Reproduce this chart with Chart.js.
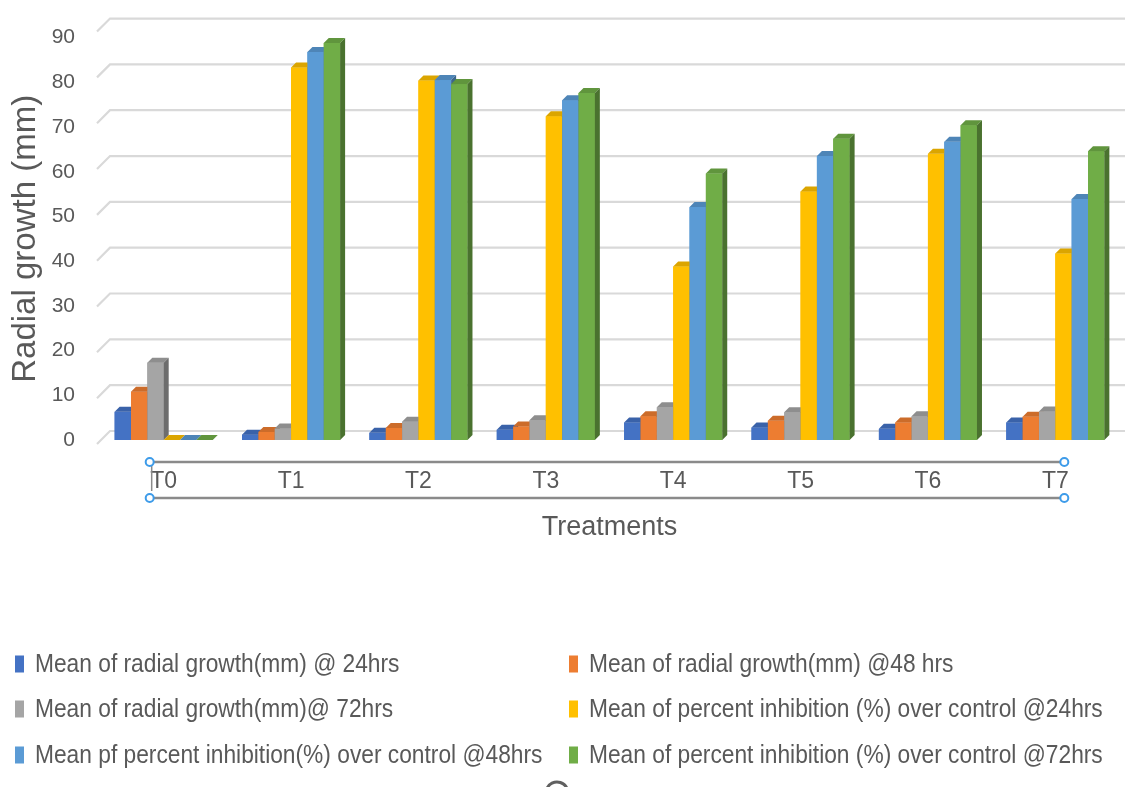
<!DOCTYPE html>
<html>
<head>
<meta charset="utf-8">
<script src="https://cdn.jsdelivr.net/npm/chart.js@4.4.1/dist/chart.umd.min.js"></script>
<style>
  html, body { margin: 0; padding: 0; background: #ffffff; }
  #wrap { width: 1125px; height: 787px; position: relative; }
</style>
</head>
<body>
<div id="wrap"><canvas id="chart"></canvas></div>
<script>
// Treatments on the x axis
const treatments = ['T0', 'T1', 'T2', 'T3', 'T4', 'T5', 'T6', 'T7'];

// Radial growth (mm)
const growth24 = [6.3, 1.2, 1.6, 2.3, 3.9, 2.8, 2.5, 3.9];
const growth48 = [10.8, 1.8, 2.7, 3.0, 5.3, 4.3, 3.9, 5.2];
const growth72 = [17.3, 2.6, 4.1, 4.4, 7.3, 6.2, 5.3, 6.4];

// Percent inhibition (%) over control
const inhibition24 = [0, 83.3, 80.4, 72.4, 38.8, 55.6, 64.0, 41.7];
const inhibition48 = [0, 86.8, 80.5, 76.0, 52.1, 63.5, 66.7, 53.9];
const inhibition72 = [0, 88.8, 79.6, 77.6, 59.6, 67.4, 70.4, 64.6];

const seriesNames = [
  'Mean of radial growth(mm) @ 24hrs',
  'Mean of radial growth(mm) @48 hrs',
  'Mean of radial growth(mm)@ 72hrs',
  'Mean of percent inhibition (%) over control @24hrs',
  'Mean pf percent inhibition(%) over control @48hrs',
  'Mean of percent inhibition (%) over control @72hrs'
];
const seriesColors = ['#4472C4', '#ED7D31', '#A5A5A5', '#FFC000', '#5B9BD5', '#70AD47'];
const seriesValues = [growth24, growth48, growth72, inhibition24, inhibition48, inhibition72];

const yTicks = [0, 10, 20, 30, 40, 50, 60, 70, 80, 90];

const FONT = "'Liberation Sans', Arial, sans-serif";
const TEXT = '#595959';
const DEPTH = 5;

function shade(hex, f) {
  const n = parseInt(hex.slice(1), 16);
  const r = Math.round(((n >> 16) & 255) * f);
  const g = Math.round(((n >> 8) & 255) * f);
  const b = Math.round((n & 255) * f);
  return `rgb(${r},${g},${b})`;
}

// Back-wall gridlines with the short slanted floor edge on the left
const backWall = {
  id: 'backWall',
  beforeDatasetsDraw(chart) {
    const { ctx, chartArea: a, scales: { y } } = chart;
    ctx.save();
    ctx.strokeStyle = '#d9d9d9';
    ctx.lineWidth = 2.2;
    yTicks.forEach(v => {
      const f = y.getPixelForValue(v);
      const back = f - 9 - (a.bottom - f) * 0.025;
      ctx.beginPath();
      ctx.moveTo(a.left - 3, back + 13);
      ctx.lineTo(a.left + 10, back);
      ctx.lineTo(chart.width, back);
      ctx.stroke();
    });
    ctx.restore();
  }
};

// Redraws each cluster left to right with a front face, top face and side face
const bars3d = {
  id: 'bars3d',
  afterDatasetsDraw(chart) {
    const { ctx } = chart;
    const metas = chart.data.datasets.map((_, i) => chart.getDatasetMeta(i));
    ctx.save();
    treatments.forEach((_, j) => {
      metas.forEach((meta, i) => {
        const el = meta.data[j];
        if (!el) return;
        const { x, y, base, width } = el.getProps(['x', 'y', 'base', 'width'], true);
        const l = x - width / 2, r = x + width / 2;
        const c = seriesColors[i];
        ctx.fillStyle = c;
        ctx.fillRect(l, y, width, base - y);
        ctx.fillStyle = shade(c, 0.86);
        ctx.beginPath();
        ctx.moveTo(l, y); ctx.lineTo(l + DEPTH, y - DEPTH);
        ctx.lineTo(r + DEPTH, y - DEPTH); ctx.lineTo(r, y);
        ctx.closePath(); ctx.fill();
        ctx.fillStyle = shade(c, 0.66);
        ctx.beginPath();
        ctx.moveTo(r, y); ctx.lineTo(r + DEPTH, y - DEPTH);
        ctx.lineTo(r + DEPTH, base - DEPTH); ctx.lineTo(r, base);
        ctx.closePath(); ctx.fill();
      });
    });
    ctx.restore();
  }
};

// Frame around the category labels with its corner handles
const labelFrame = {
  id: 'labelFrame',
  afterDraw(chart) {
    const { ctx, scales: { x } } = chart;
    const x0 = x.getPixelForValue(0) - 14;
    const x1 = x.getPixelForValue(treatments.length - 1) + 9;
    const yTop = 462, yBot = 498;
    ctx.save();
    ctx.strokeStyle = '#8a8a8a';
    ctx.lineWidth = 2.5;
    [yTop, yBot].forEach(yy => {
      ctx.beginPath(); ctx.moveTo(x0, yy); ctx.lineTo(x1, yy); ctx.stroke();
    });
    ctx.lineWidth = 1.5;
    ctx.beginPath(); ctx.moveTo(x0 + 2, yTop); ctx.lineTo(x0 + 2, 491); ctx.stroke();
    ctx.strokeStyle = '#3d9be9';
    ctx.fillStyle = '#ffffff';
    ctx.lineWidth = 2;
    [[x0, yTop], [x0, yBot], [x1, yTop], [x1, yBot]].forEach(([px, py]) => {
      ctx.beginPath(); ctx.arc(px, py, 4, 0, Math.PI * 2); ctx.fill(); ctx.stroke();
    });
    ctx.strokeStyle = '#606060';
    ctx.lineWidth = 3;
    ctx.beginPath(); ctx.arc(557, 793, 11, Math.PI * 1.1, Math.PI * 1.9); ctx.stroke();
    ctx.restore();
  }
};

// Two-column legend under the axis title
const twoColumnLegend = {
  id: 'twoColumnLegend',
  afterDraw(chart) {
    const { ctx } = chart;
    const cols = [15, 569];
    const rows = [664, 709, 755];
    ctx.save();
    chart.data.datasets.forEach((ds, i) => {
      const cx = cols[i % 2], cy = rows[Math.floor(i / 2)];
      ctx.fillStyle = ds.backgroundColor;
      ctx.fillRect(cx, cy - 8.5, 9, 17);
      ctx.save();
      ctx.translate(cx + 20, cy);
      ctx.scale(0.91, 1);
      ctx.font = `25px ${FONT}`;
      ctx.fillStyle = TEXT;
      ctx.textBaseline = 'middle';
      ctx.fillText(ds.label, 0, 1);
      ctx.restore();
    });
    ctx.restore();
  }
};

new Chart(document.getElementById('chart'), {
  type: 'bar',
  data: {
    labels: treatments,
    datasets: seriesNames.map((name, i) => ({
      label: name,
      data: seriesValues[i],
      backgroundColor: seriesColors[i],
      borderWidth: 0,
      categoryPercentage: 0.77,
      barPercentage: 1.0
    }))
  },
  options: {
    responsive: true,
    maintainAspectRatio: false,
    animation: false,
    layout: { padding: { top: 35, right: 6, left: 0, bottom: 0 } },
    plugins: { legend: { display: false }, tooltip: { enabled: false } },
    scales: {
      x: {
        grid: { display: false, drawTicks: false },
        border: { display: false },
        ticks: { font: { family: FONT, size: 23 }, color: TEXT, padding: 28, maxRotation: 0 },
        title: {
          display: true, text: 'Treatments', color: TEXT,
          font: { family: FONT, size: 27 },
          padding: { top: 0, bottom: 243 }
        },
        afterFit(s) { s.height = 347; }
      },
      y: {
        min: 0, max: 90,
        afterBuildTicks(s) { s.ticks = yTicks.map(v => ({ value: v })); },
        grid: { display: false, drawTicks: false },
        border: { display: false },
        ticks: { font: { family: FONT, size: 21 }, color: TEXT, padding: 25 },
        title: {
          display: true, text: 'Radial growth (mm)', color: TEXT,
          font: { family: FONT, size: 33 },
          padding: { top: 6, bottom: 0 }
        },
        afterFit(s) { s.width = 100; }
      }
    }
  },
  plugins: [backWall, bars3d, labelFrame, twoColumnLegend]
});
</script>
</body>
</html>
